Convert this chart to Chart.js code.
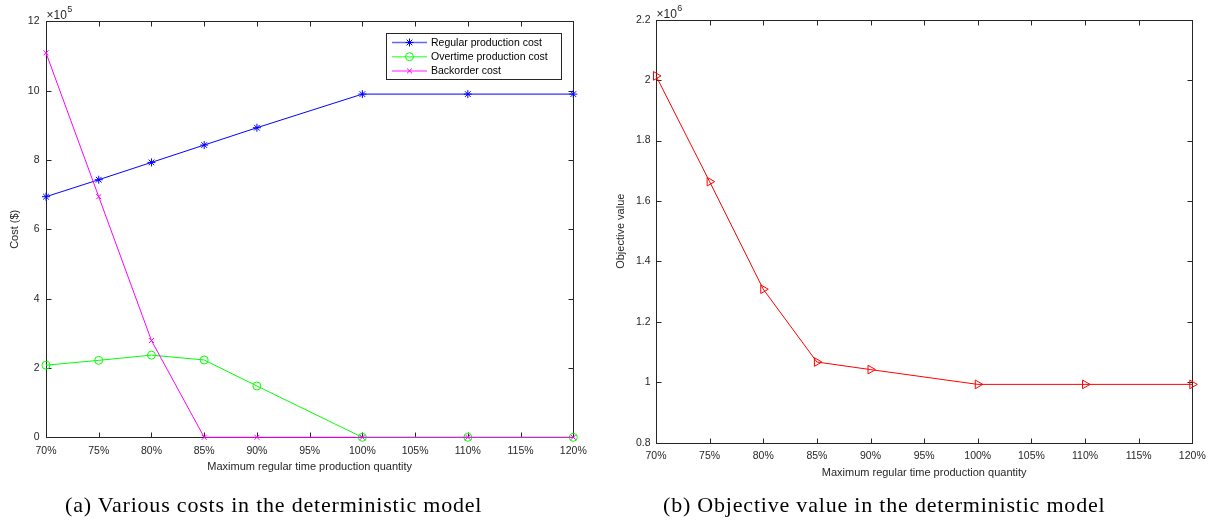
<!DOCTYPE html>
<html>
<head>
<meta charset="utf-8">
<script src="https://cdn.jsdelivr.net/npm/chart.js@4/dist/chart.umd.min.js"></script>
<style>
  body { margin: 0; background: #fff; }
  #wrap { position: relative; width: 1217px; height: 531px; overflow: hidden; }
  #costBox { position: absolute; left: 0; top: 0; width: 600px; height: 531px; }
  #objBox { position: absolute; left: 600px; top: 0; width: 617px; height: 531px; }
  .caption {
    position: absolute; top: 492px; font-family: "Liberation Serif", serif;
    font-size: 22px; letter-spacing: 0.8px; color: #000; white-space: nowrap;
  }
</style>
</head>
<body>
<div id="wrap">
  <div id="costBox"><canvas id="costChart"></canvas></div>
  <div id="objBox"><canvas id="objChart"></canvas></div>
  <div class="caption" id="capA" style="left:65px">(a) Various costs in the deterministic model</div>
  <div class="caption" id="capB" style="left:663px">(b) Objective value in the deterministic model</div>
</div>
<script>
// Data
const quantityLevels = [70, 75, 80, 85, 90, 100, 110, 120];   // % of max regular time production
const regularCost   = [694000, 743000, 793000, 843000, 893000, 990000, 990000, 990000];
const overtimeCost  = [208000, 222000, 237000, 223000, 148000, 0, 0, 0];
const backorderCost = [1109000, 694000, 279000, 0, 0, 0, 0, 0];
const objectiveValue = [2014000, 1664000, 1308000, 1067000, 1042000, 993000, 993000, 993000];

const costTicks = [0, 2, 4, 6, 8, 10, 12];                  // x10^5
const objTicks = [0.8, 1, 1.2, 1.4, 1.6, 1.8, 2, 2.2];      // x10^6

const axisColor = '#262626';
const sansFont = '"Liberation Sans", Arial, sans-serif';

function toPoints(values) {
  return quantityLevels.map((q, i) => ({ x: q, y: values[i] }));
}

// MATLAB-like box with inward ticks, exponent label and in-plot legend
const matlabBox = {
  id: 'matlabBox',
  beforeDatasetsDraw(chart, args, opts) {
    const ctx = chart.ctx;
    const a = chart.chartArea;
    const xs = chart.scales.x, ys = chart.scales.y;
    ctx.save();
    ctx.strokeStyle = axisColor;
    ctx.lineWidth = 1;
    const L = Math.round(a.left) + 0.5, R = Math.round(a.right) + 0.5;
    const T = Math.round(a.top) + 0.5, B = Math.round(a.bottom) + 0.5;
    ctx.strokeRect(L, T, R - L, B - T);
    ctx.beginPath();
    xs.ticks.forEach(t => {
      const px = Math.round(xs.getPixelForValue(t.value)) + 0.5;
      ctx.moveTo(px, B); ctx.lineTo(px, B - 5);
      ctx.moveTo(px, T); ctx.lineTo(px, T + 5);
    });
    ys.ticks.forEach(t => {
      const py = Math.round(ys.getPixelForValue(t.value)) + 0.5;
      ctx.moveTo(L, py); ctx.lineTo(L + 5, py);
      ctx.moveTo(R, py); ctx.lineTo(R - 5, py);
    });
    ctx.stroke();

    // exponent label
    ctx.fillStyle = axisColor;
    ctx.textBaseline = 'alphabetic';
    ctx.textAlign = 'left';
    ctx.font = '12px ' + sansFont;
    ctx.fillText('\u00d710', a.left + 0.5, a.top - 2);
    const w = ctx.measureText('\u00d710').width;
    ctx.font = '9px ' + sansFont;
    ctx.fillText(opts.exponent, a.left + 1 + w, a.top - 9);
    ctx.restore();
  },
  afterDraw(chart, args, opts) {
    if (!opts.legend) return;
    const ctx = chart.ctx;
    const lg = opts.legend;
    ctx.save();
    ctx.fillStyle = '#fff';
    ctx.fillRect(lg.x, lg.y, lg.w, lg.h);
    ctx.strokeStyle = axisColor;
    ctx.lineWidth = 1;
    ctx.strokeRect(lg.x + 0.5, lg.y + 0.5, lg.w, lg.h);
    chart.data.datasets.forEach((ds, i) => {
      const cy = lg.y + 9.5 + i * 14.2;
      ctx.strokeStyle = ds.borderColor;
      ctx.globalAlpha = 0.6;
      ctx.lineWidth = 1.5;
      ctx.beginPath();
      ctx.moveTo(lg.x + 6, cy); ctx.lineTo(lg.x + 41, cy);
      ctx.stroke();
      ctx.globalAlpha = 1;
      ctx.lineWidth = 1;
      ctx.fillStyle = 'rgba(0,0,0,0)';
      Chart.helpers.drawPoint(ctx, {
        pointStyle: ds.pointStyle, radius: ds.pointRadius,
        rotation: ds.pointRotation || 0, borderWidth: 1
      }, lg.x + 23.5, cy);
      ctx.fillStyle = '#000';
      ctx.font = '10.5px ' + sansFont;
      ctx.textBaseline = 'middle';
      ctx.fillText(ds.label, lg.x + 45, cy + 0.5);
    });
    ctx.restore();
  }
};

function baseOptions(cfg) {
  return {
    responsive: false,
    animation: false,
    layout: { padding: cfg.padding },
    plugins: {
      legend: { display: false },
      tooltip: { enabled: false },
      matlabBox: { exponent: cfg.exponent, legend: cfg.legend }
    },
    scales: {
      x: {
        type: 'linear', min: 70, max: 120,
        grid: { display: false, drawTicks: false }, border: { display: false },
        ticks: {
          stepSize: 5, autoSkip: false, maxRotation: 0, padding: cfg.xTickPad,
          color: axisColor, font: { family: sansFont, size: 10.5 },
          callback: v => v + '%'
        },
        title: {
          display: true, text: 'Maximum regular time production quantity',
          color: axisColor, font: { family: sansFont, size: 11 },
          padding: { top: 0, bottom: cfg.xTitlePad }
        },
        afterFit: s => { s.height = cfg.xHeight; }
      },
      y: {
        type: 'linear', min: cfg.yMin, max: cfg.yMax,
        grid: { display: false, drawTicks: false }, border: { display: false },
        afterBuildTicks: s => { s.ticks = cfg.yTicks.map(v => ({ value: v * cfg.yScale })); },
        ticks: {
          padding: cfg.yTickPad, color: axisColor,
          font: { family: sansFont, size: 10.5 },
          callback: v => String(Math.round(v / cfg.yScale * 10) / 10)
        },
        title: {
          display: true, text: cfg.yTitle,
          color: axisColor, font: { family: sansFont, size: 11 },
          padding: { top: cfg.yTitlePad, bottom: 0 }
        },
        afterFit: s => { s.width = cfg.yWidth; }
      }
    }
  };
}

const costCanvas = document.getElementById('costChart');
costCanvas.width = 600; costCanvas.height = 531;
new Chart(costCanvas, {
  type: 'line',
  plugins: [matlabBox],
  data: {
    datasets: [
      {
        label: 'Regular production cost', data: toPoints(regularCost),
        borderColor: '#0000ff', borderWidth: 1, pointStyle: 'star', pointRadius: 4,
        pointBorderWidth: 1, pointBackgroundColor: 'rgba(0,0,0,0)', clip: false, order: 3
      },
      {
        label: 'Overtime production cost', data: toPoints(overtimeCost),
        borderColor: '#00ff00', borderWidth: 1, pointStyle: 'circle', pointRadius: 4,
        pointBorderWidth: 1, pointBackgroundColor: 'rgba(0,0,0,0)', clip: false, order: 2
      },
      {
        label: 'Backorder cost', data: toPoints(backorderCost),
        borderColor: '#ff00ff', borderWidth: 1, pointStyle: 'crossRot', pointRadius: 3.5,
        pointBorderWidth: 1, pointBackgroundColor: 'rgba(0,0,0,0)', clip: false, order: 1
      }
    ]
  },
  options: baseOptions({
    padding: { left: 0, right: 26.7, top: 21.3, bottom: 0 },
    xHeight: 93.7, xTitlePad: 57.7, xTickPad: 8,
    yMin: 0, yMax: 1200000, yTicks: costTicks, yScale: 100000,
    yTickPad: 6.5, yWidth: 46, yTitle: 'Cost ($)', yTitlePad: 8.4,
    exponent: '5',
    legend: { x: 386, y: 33, w: 175, h: 46 }
  })
});

const objCanvas = document.getElementById('objChart');
objCanvas.width = 617; objCanvas.height = 531;
new Chart(objCanvas, {
  type: 'line',
  plugins: [matlabBox],
  data: {
    datasets: [
      {
        label: 'Objective value', data: toPoints(objectiveValue),
        borderColor: '#ff0000', borderWidth: 1, pointStyle: 'triangle', pointRotation: 90,
        pointRadius: 5, pointBorderWidth: 1, pointBackgroundColor: 'rgba(0,0,0,0)', clip: false
      }
    ]
  },
  options: baseOptions({
    padding: { left: 0, right: 24.7, top: 19.7, bottom: 0 },
    xHeight: 88.3, xTitlePad: 51.1, xTickPad: 7.5,
    yMin: 800000, yMax: 2200000, yTicks: objTicks, yScale: 1000000,
    yTickPad: 5.5, yWidth: 56, yTitle: 'Objective value', yTitlePad: 14.4,
    exponent: '6',
    legend: null
  })
});
</script>
</body>
</html>
